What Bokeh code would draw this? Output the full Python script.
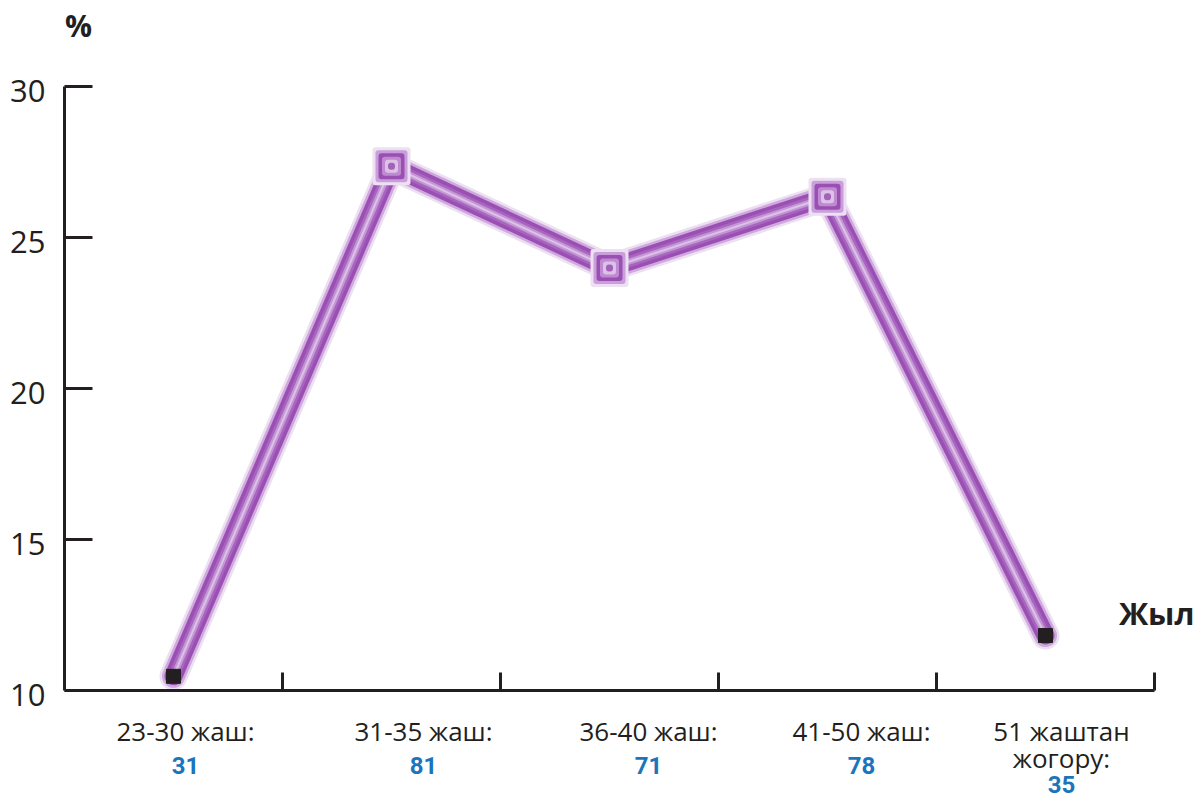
from bokeh.plotting import figure
from bokeh.models import LinearAxis, FixedTicker, ColumnDataSource, CDSView, IndexFilter
from bokeh.core.properties import value
from bokeh.embed import file_html
from bokeh.resources import INLINE

# ---- data ----
categories = ["23-30 жаш:", "31-35 жаш:", "36-40 жаш:", "41-50 жаш:", "51 жаштан\nжогору:"]
counts = [31, 81, 71, 78, 35]
percent = [10.47, 27.36, 23.99, 26.35, 11.82]
y_ticks = [10, 15, 20, 25, 30]
x_pos = [0.5, 1.5, 2.5, 3.5, 4.5]
x_ticks = [1, 2, 3, 4, 5]
x_bounds = [0, 5]

# ---- style / layout ----
DARK = "#231f20"
BLUE = "#1a75bc"
label_dx = [12, 32, 39, 34, 16]  # pixel nudges of category captions

W, H = 1195, 801
LEFT, BOTTOM = 2, 1           # panel sizes reserved for the axes
X0_PX, PX_X = 64, 218.0       # canvas x of data x=0, pixels per x unit
Y10_PX, PX_Y = 690, 30.2      # canvas y of data y=10, pixels per y unit
x_start = (LEFT - X0_PX) / PX_X
x_end = (W - X0_PX) / PX_X
y_end = 10 + Y10_PX / PX_Y
y_start = 10 + (Y10_PX - (H - BOTTOM)) / PX_Y

p = figure(width=W, height=H, x_range=(x_start, x_end), y_range=(y_start, y_end),
           x_axis_location=None, y_axis_location=None,
           output_backend="svg", toolbar_location=None,
           min_border_left=LEFT, min_border_right=0, min_border_top=0, min_border_bottom=BOTTOM)
p.outline_line_color = None
p.xgrid.visible = False
p.ygrid.visible = False


def style_axis(ax, tick_in):
    ax.major_tick_in = tick_in
    ax.major_tick_out = 0
    ax.minor_tick_line_color = None
    ax.axis_line_width = 3
    ax.major_tick_line_width = 3
    ax.axis_line_color = DARK
    ax.major_tick_line_color = DARK
    ax.major_label_standoff = 0
    ax.major_label_text_font_size = "0px"


yax = LinearAxis(bounds=(10, 30), ticker=FixedTicker(ticks=y_ticks), fixed_location=x_bounds[0])
style_axis(yax, 28)
yax.major_label_overrides = {t: "" for t in y_ticks}
p.add_layout(yax, "left")

xax = LinearAxis(bounds=tuple(x_bounds), ticker=FixedTicker(ticks=x_ticks), fixed_location=10)
style_axis(xax, 18)
xax.major_label_overrides = {t: "" for t in x_ticks}
p.add_layout(xax, "below")

# y tick labels, placed through the data scale
p.text(x=[x_bounds[0]] * len(y_ticks), y=y_ticks, text=[str(t) for t in y_ticks],
       x_offset=-19, y_offset=4, text_font=value("Open Sans"), text_font_size="31px",
       text_color=DARK, text_align="right", text_baseline="middle")

src = ColumnDataSource(dict(x=x_pos, y=percent))

# glowing purple line
for w, c in [(28, "#ede0f2"), (23, "#cfa8de"), (18, "#9a4fb2"), (11, "#a865bf"),
             (6, "#c496d5"), (2, "#dcc2e6")]:
    p.line("x", "y", source=src, line_width=w, line_color=c, line_join="round", line_cap="round")

mid = CDSView(filter=IndexFilter([1, 2, 3]))
ends = CDSView(filter=IndexFilter([0, 4]))
for s, c in [(32, "#ede0f2"), (26, "#c99edb"), (20, "#9a4fb2"), (13, "#c08ad2"),
             (7, "#dcc2e6"), (1, "#a262b9")]:
    p.scatter("x", "y", source=src, view=mid, marker="square", size=s, fill_color=c,
              line_color=c, line_width=6, line_join="round")
p.scatter("x", "y", source=src, view=ends, marker="square", size=14,
          fill_color=DARK, line_color=DARK)

# axis captions
p.text(x=[0.064], y=[32.02], text=["%"], text_font=value("Open Sans"), text_font_style="bold",
       text_font_size="30px", text_color=DARK, text_align="center", text_baseline="middle")
p.text(x=[5.01], y=[12.58], text=["Жыл"], text_font=value("Open Sans"), text_font_style="bold",
       text_font_size="31px", text_color=DARK, text_align="center", text_baseline="middle")

# category captions (one row per text line)
cap = dict(x=[], y=[], t=[], dx=[])
num = dict(x=[], y=[], t=[], dx=[])
for i, (cat, n) in enumerate(zip(categories, counts)):
    lines = cat.split("\n")
    for j, ln in enumerate(lines):
        cap["x"].append(x_pos[i]); cap["y"].append(10 - (40 + 27 * j) / PX_Y)
        cap["t"].append(ln); cap["dx"].append(label_dx[i])
    num["x"].append(x_pos[i]); num["y"].append(10 - (75 + 19 * (len(lines) - 1)) / PX_Y)
    num["t"].append(str(n)); num["dx"].append(label_dx[i])

p.text("x", "y", text="t", x_offset="dx", source=ColumnDataSource(cap),
       text_font=value("Open Sans"), text_font_size="26px", text_color=DARK,
       text_align="center", text_baseline="middle")
p.text("x", "y", text="t", x_offset="dx", source=ColumnDataSource(num),
       text_font=value("Roboto"), text_font_style="bold", text_font_size="24px",
       text_color=BLUE, text_align="center", text_baseline="middle")

open("out.html", "w").write(file_html(p, INLINE))
